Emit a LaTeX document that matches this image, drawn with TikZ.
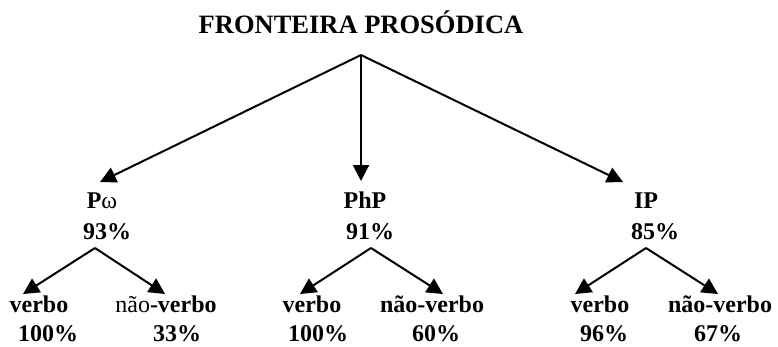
\documentclass[tikz,border=0pt]{standalone}
\usepackage{fontspec}
\setmainfont{Liberation Serif}
\usetikzlibrary{arrows.meta}
\tikzset{
  lbl/.style={anchor=base, inner sep=0pt, font=\fontsize{24}{26}\selectfont\bfseries},
  ttl/.style={anchor=base, inner sep=0pt, font=\fontsize{26.5}{28}\selectfont\bfseries},
  arr/.style={line width=2pt, -{Triangle[length=16pt,width=16pt]}}
}
\begin{document}
\begin{tikzpicture}[x=1pt,y=-1pt]
\useasboundingbox (0,0) rectangle (778,346);
\node[ttl] (title) at (361,33) {FRONTEIRA PROSÓDICA};
\coordinate (top) at (361,55);
% level 2
\node[lbl] (pw) at (102,208) {P\mdseries ω};
\node[lbl] (pw93) at (107,239) {93\%};
\node[lbl] (php) at (365,208) {PhP};
\node[lbl] (php91) at (370,239) {91\%};
\node[lbl] (ip) at (646,208) {IP};
\node[lbl] (ip85) at (655,239) {85\%};
\coordinate (tA) at (100,182);
\coordinate (tB) at (361,181);
\coordinate (tC) at (623,182);
\draw[arr] (top) -- (tA);
\draw[arr] (top) -- (tB);
\draw[arr] (top) -- (tC);
% level 3
\node[lbl] (v1) at (39,312) {verbo};
\node[lbl] (n1) at (166,312) {\mdseries não\bfseries -verbo};
\node[lbl] (v1p) at (48,341) {100\%};
\node[lbl] (n1p) at (177,341) {33\%};
\node[lbl] (v2) at (312,312) {verbo};
\node[lbl] (n2) at (432,312) {não-verbo};
\node[lbl] (v2p) at (318,341) {100\%};
\node[lbl] (n2p) at (436,341) {60\%};
\node[lbl] (v3) at (600,312) {verbo};
\node[lbl] (n3) at (720,312) {não-verbo};
\node[lbl] (v3p) at (604,341) {96\%};
\node[lbl] (n3p) at (718,341) {67\%};
\coordinate (a1) at (95,248);
\coordinate (a2) at (371,248);
\coordinate (a3) at (646,248);
\coordinate (l1) at (23,294);
\coordinate (r1) at (165,294);
\coordinate (l2) at (300,294);
\coordinate (r2) at (443,294);
\coordinate (l3) at (575,294);
\coordinate (r3) at (718,294);
\draw[arr] (a1) -- (l1);
\draw[arr] (a1) -- (r1);
\draw[arr] (a2) -- (l2);
\draw[arr] (a2) -- (r2);
\draw[arr] (a3) -- (l3);
\draw[arr] (a3) -- (r3);
\end{tikzpicture}
\end{document}
